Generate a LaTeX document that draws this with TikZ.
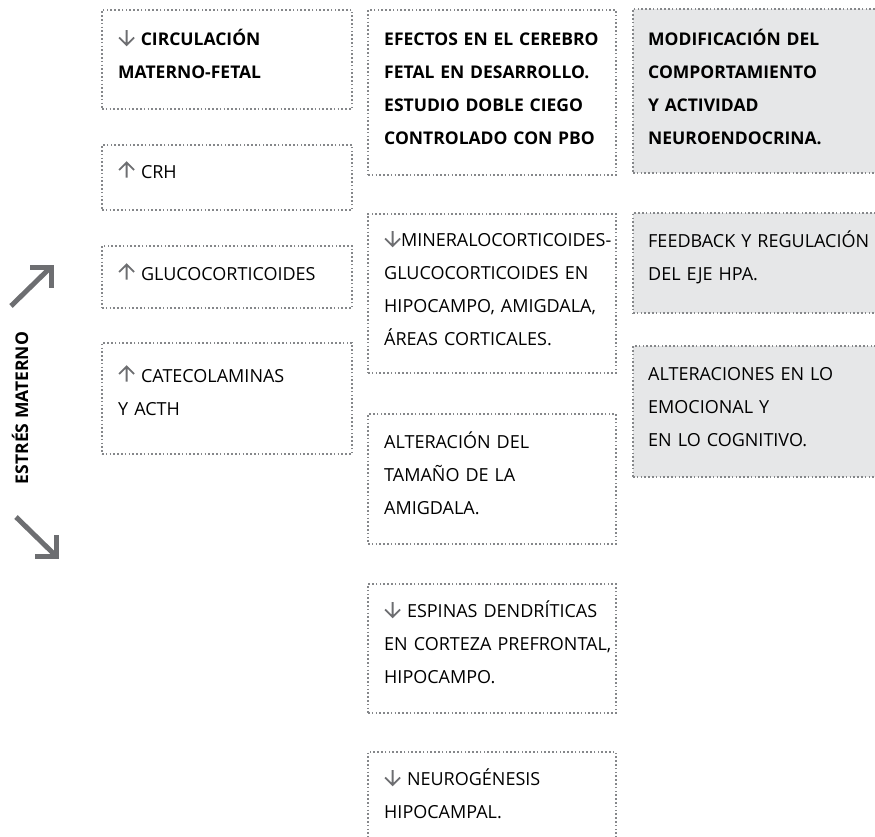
\documentclass[tikz,border=0pt]{standalone}
\usepackage{fontspec}
\setmainfont{Open Sans}
\definecolor{dotgray}{HTML}{85878A}
\definecolor{arrgray}{HTML}{6D6E71}
\definecolor{boxfill}{HTML}{E6E7E8}
\newcommand\mydown{\tikz[baseline=1pt,x=1pt,y=1pt]{\draw[arrgray,line width=1.8pt,line join=miter] (0.5,8.5) -- (8,1) -- (15.5,8.5) (8,1.6) -- (8,16);}}
\newcommand\myup{\tikz[baseline=1pt,x=1pt,y=1pt]{\draw[arrgray,line width=1.8pt,line join=miter] (0.5,9) -- (8,16.5) -- (15.5,9) (8,16) -- (8,1.5);}}
\begin{document}
\begin{tikzpicture}[x=1pt,y=-1pt,
  dbox/.style={draw=dotgray, line width=1.6pt, dash pattern=on 1.6pt off 2.2pt, anchor=north west, inner sep=0pt, outer sep=0pt},
  gbox/.style={dbox, fill=boxfill},
  txt/.style={anchor=base west, inner sep=0pt, text width=250pt, align=left, font=\fontsize{18}{33.3}\selectfont, text=black},
  btxt/.style={txt, font=\fontsize{17.5}{33.3}\selectfont\bfseries},
  bigarrow/.style={draw=arrgray, line width=5pt, line join=miter}
]
\useasboundingbox (0,0) rectangle (875,836);

% column 1
\node[dbox, minimum width=250pt, minimum height=99pt] (c1b1) at (102,10) {};
\node[dbox, minimum width=250pt, minimum height=65pt] (c1b2) at (102,145) {};
\node[dbox, minimum width=250pt, minimum height=62pt] (c1b3) at (102,246) {};
\node[dbox, minimum width=250pt, minimum height=111pt] (c1b4) at (102,343) {};

\node[btxt] (t11) at (118,45) {\mydown{} CIRCULACIÓN\\MATERNO-FETAL};
\node[txt] (t12) at (118,178) {\myup{} CRH};
\node[txt] (t13) at (118,280) {\myup{} GLUCOCORTICOIDES};
\node[txt] (t14) at (118,382) {\myup{} CATECOLAMINAS\\Y ACTH};

% column 2
\node[dbox, minimum width=248pt, minimum height=165pt] (c2b1) at (368,10) {};
\node[dbox, minimum width=248pt, minimum height=159pt] (c2b2) at (368,214) {};
\node[dbox, minimum width=248pt, minimum height=130pt] (c2b3) at (368,414) {};
\node[dbox, minimum width=248pt, minimum height=129pt] (c2b4) at (368,584) {};
\node[dbox, minimum width=248pt, minimum height=100pt] (c2b5) at (368,752) {};

\node[btxt] (t21) at (384,45) {EFECTOS EN EL CEREBRO\\FETAL EN DESARROLLO.\\ESTUDIO DOBLE CIEGO\\CONTROLADO CON PBO};
\node[txt] (t22) at (384,246) {\mydown{}MINERALOCORTICOIDES-\\GLUCOCORTICOIDES EN\\HIPOCAMPO, AMIGDALA,\\ÁREAS CORTICALES.};
\node[txt] (t23) at (384,448) {ALTERACIÓN DEL\\TAMAÑO DE LA\\AMIGDALA.};
\node[txt] (t24) at (384,617) {\mydown{} ESPINAS DENDRÍTICAS\\EN CORTEZA PREFRONTAL,\\HIPOCAMPO.};
\node[txt] (t25) at (384,785) {\mydown{} NEUROGÉNESIS\\HIPOCAMPAL.};

% column 3
\node[gbox, minimum width=246pt, minimum height=164pt] (c3b1) at (633,9) {};
\node[gbox, minimum width=246pt, minimum height=100pt] (c3b2) at (633,213) {};
\node[gbox, minimum width=246pt, minimum height=131pt] (c3b3) at (633,346) {};

\node[btxt] (t31) at (648,45) {MODIFICACIÓN DEL\\COMPORTAMIENTO\\Y ACTIVIDAD\\NEUROENDOCRINA.};
\node[txt] (t32) at (648,247) {FEEDBACK Y REGULACIÓN\\DEL EJE HPA.};
\node[txt] (t33) at (648,380) {ALTERACIONES EN LO\\EMOCIONAL Y\\EN LO COGNITIVO.};

% left label and arrows
\node[rotate=90, inner sep=0pt, font=\fontsize{17.5}{20}\selectfont\bfseries] (stress) at (20,408) {ESTRÉS MATERNO};
\coordinate (ua0) at (11,306);
\coordinate (ua1) at (51,267);
\draw[bigarrow] (ua0) -- (ua1);
\draw[bigarrow] ([xshift=-21pt]ua1) -- (ua1) -- ([yshift=-21pt]ua1);
\coordinate (da0) at (16,517);
\coordinate (da1) at (56,556);
\draw[bigarrow] (da0) -- (da1);
\draw[bigarrow] ([yshift=21pt]da1) -- (da1) -- ([xshift=-21pt]da1);
\end{tikzpicture}
\end{document}
